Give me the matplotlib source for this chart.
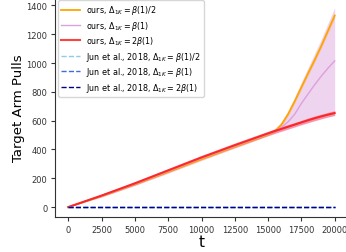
import matplotlib
matplotlib.use("Agg")
import matplotlib.pyplot as plt
import numpy as np

t = [0, 2500, 5000, 7500, 10000, 12500, 15000, 15500, 16000, 16500, 17000,
     17500, 18000, 18500, 19000, 19500, 20000]
ours_half = [0, 78, 160, 245, 333, 420, 505, 525, 572, 645, 735, 832, 928, 1022, 1120, 1225, 1330]
ours_half_err = [0, 6, 8, 8, 9, 10, 10, 10, 11, 12, 13, 14, 15, 16, 17, 18, 20]
ours_one = [0, 80, 163, 250, 340, 425, 508, 525, 552, 592, 645, 720, 785, 850, 910, 965, 1015]
ours_one_lo = [0, 70, 150, 235, 325, 410, 495, 510, 525, 540, 555, 570, 585, 598, 612, 625, 637]
ours_one_hi = [0, 90, 175, 262, 352, 438, 522, 545, 592, 668, 763, 868, 968, 1068, 1168, 1278, 1385]
ours_two = [0, 80, 165, 255, 345, 430, 512, 528, 543, 558, 573, 588, 603, 617, 630, 642, 653]
ours_two_err = [0, 8, 12, 13, 14, 15, 15, 15, 15, 15, 15, 15, 16, 16, 16, 16, 17]
jun_half = [0] * len(t)
jun_one = [0] * len(t)
jun_two = [0] * len(t)

labels = [r'ours, $\Delta_{1K}=\beta(1)/2$', r'ours, $\Delta_{1K}=\beta(1)$',
          r'ours, $\Delta_{1K}=2\beta(1)$', r'Jun et al., 2018, $\Delta_{1K}=\beta(1)/2$',
          r'Jun et al., 2018, $\Delta_{1K}=\beta(1)$', r'Jun et al., 2018, $\Delta_{1K}=2\beta(1)$']

fig = plt.figure(figsize=(3.46, 2.53), dpi=100)
ax = fig.add_axes([55/346, 35/253, 293/346, 220/253])

ta = np.array(t)
oh = np.array(ours_half); ohe = np.array(ours_half_err)
ot = np.array(ours_two); ote = np.array(ours_two_err)

ax.fill_between(ta, oh - ohe, oh + ohe, color='orange', alpha=0.3, lw=0)
ax.plot(ta, oh, color='orange', lw=1.3, label=labels[0])
ax.fill_between(ta, ours_one_lo, ours_one_hi, color='plum', alpha=0.45, lw=0)
ax.plot(ta, ours_one, color='plum', lw=1.0, label=labels[1])
ax.fill_between(ta, ot - ote, ot + ote, color='red', alpha=0.3, lw=0)
ax.plot(ta, ot, color='red', lw=1.5, alpha=0.75, label=labels[2])
ax.plot(ta, jun_half, color='skyblue', ls='--', lw=1.0, label=labels[3])
ax.plot(ta, jun_one, color='royalblue', ls='--', lw=1.0, label=labels[4])
ax.plot(ta, jun_two, color='navy', ls='--', lw=1.0, label=labels[5])

ax.set_xlim(-1000, 21000)
ax.set_ylim(-69, 1459)
ax.set_xticks([0, 2500, 5000, 7500, 10000, 12500, 15000, 17500, 20000])
ax.set_yticks([0, 200, 400, 600, 800, 1000, 1200, 1400])
ax.tick_params(labelsize=6, length=3, pad=2.5, colors='#333333')
for s in ax.spines.values():
    s.set_color('#333333')
ax.set_xlabel('t', fontsize=11, labelpad=0)
ax.set_ylabel('Target Arm Pulls', fontsize=9.5, labelpad=1)
ax.legend(loc='upper left', fontsize=5.8, borderaxespad=0.4, handlelength=2.3,
          labelspacing=0.3)

fig.savefig('out.png', dpi=100)
